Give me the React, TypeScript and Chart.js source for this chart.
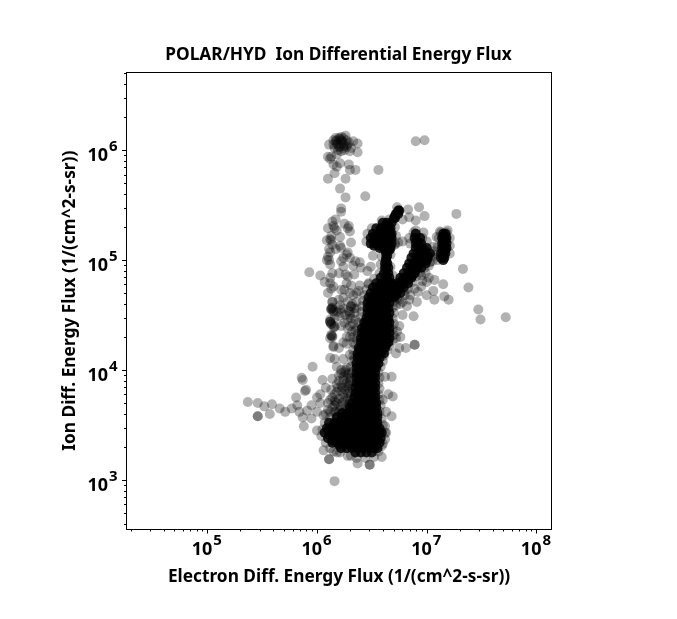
import { useEffect, useRef } from 'react';
import { Chart, registerables } from 'chart.js';
import type { Plugin } from 'chart.js';

Chart.register(...registerables);

const TITLE = 'POLAR/HYD  Ion Differential Energy Flux';
const X_LABEL = 'Electron Diff. Energy Flux (1/(cm^2-s-sr))';
const Y_LABEL = 'Ion Diff. Energy Flux (1/(cm^2-s-sr))';
const FONT = '"Noto Sans", sans-serif';

const X_DECADES = [4, 5, 6, 7, 8];
const Y_DECADES = [2, 3, 4, 5, 6];
const X_LABELLED = [5, 6, 7, 8];
const Y_LABELLED = [3, 4, 5, 6];

// log10 of electron flux / ion flux
const sparseElectron = [
  6.26, 6.20, 6.15, 6.11, 6.33, 6.37, 6.37, 6.18, 6.24, 6.21, 6.28, 6.31, 6.25, 6.16, 6.22, 6.19, 6.27, 6.30, 6.24, 6.18, 6.22,
  6.17, 6.21, 6.25, 6.20, 6.23, 6.27, 6.15, 6.29, 6.19, 6.24, 6.17, 6.22,
  6.10, 6.13, 6.18, 6.12, 6.21, 6.18, 6.15, 6.16, 6.29, 6.30, 6.35, 6.10, 6.26, 6.56, 6.21, 6.26, 6.44, 6.90, 6.98,
  6.22, 6.22, 6.73, 6.83, 6.93, 6.98, 7.27, 6.78, 6.84, 6.90,
  6.14, 6.17, 6.10, 6.15, 6.16, 6.25, 6.29, 6.28, 6.30, 6.09, 6.12, 6.13, 6.21, 6.31, 6.21, 6.22, 6.28, 6.51,
  6.10, 6.11, 6.09, 6.12, 5.93, 6.03, 6.22, 6.24, 6.35, 6.39, 6.49, 6.46, 6.40, 6.34, 6.26, 6.12, 6.07, 6.12, 6.13,
  6.27, 6.31, 6.25, 6.39, 6.47, 6.30, 6.36, 6.22,
  7.33, 7.38, 7.15, 7.07, 7.06, 7.07, 7.16, 7.20, 6.92, 6.91, 6.84, 6.75, 7.47, 7.49, 7.72, 6.88, 6.72, 6.99, 6.96, 6.89,
  7.09, 7.13, 7.18, 6.97, 6.88, 6.74, 6.78, 6.71, 7.02, 7.05, 7.10, 6.95, 7.00,
  6.14, 6.13, 6.12, 6.21, 6.31, 6.30, 6.34, 6.15,
  5.37, 5.46, 5.52, 5.59, 5.66, 5.71, 5.46, 5.46, 5.57, 5.77, 5.82, 5.81, 5.86, 5.87, 5.89, 5.90, 5.96, 6.05, 6.14, 6.08,
  6.03, 6.00, 5.95, 5.91, 5.87, 5.95, 6.00, 6.03, 5.84, 5.88, 6.00, 6.06,
  6.12, 6.16, 6.24, 6.24, 6.30, 6.15, 6.20, 6.13, 6.12, 6.16, 6.13, 6.22, 6.28, 6.21, 6.31, 6.28,
  6.14, 6.15, 6.12, 6.13, 6.16, 6.14, 6.12, 6.15,
  6.89, 6.89, 6.81, 6.75, 6.72, 6.72, 6.68, 6.62, 6.69, 6.65, 6.60, 6.63, 6.68, 6.62, 6.63, 6.60, 6.59, 6.48, 6.48, 6.37, 6.31, 6.11, 6.11, 6.16,
  6.06, 6.15, 6.21,
  6.18, 6.22, 6.27, 6.13, 6.18, 6.24, 6.16, 6.22, 6.27, 6.12, 6.18, 6.24, 6.28, 6.10, 6.16, 6.22, 6.28,
  6.20, 6.25, 6.14, 6.19, 6.25, 6.10, 6.20, 6.26, 6.30, 6.30, 6.30, 6.08,
  6.30, 6.33, 6.34, 6.30, 6.33, 6.34, 6.27, 6.32,
];
const sparseIon = [
  6.13, 6.11, 6.09, 6.05, 6.08, 6.06, 5.98, 6.06, 6.06, 6.03, 6.05, 6.02, 6.00, 6.02, 6.09, 6.05, 6.09, 5.99, 6.11, 6.09, 5.99,
  6.08, 6.10, 6.04, 6.03, 6.08, 6.03, 6.05, 6.07, 6.00, 6.02, 6.11, 6.12,
  5.94, 5.94, 5.96, 5.92, 5.88, 5.85, 5.87, 5.79, 5.87, 5.82, 5.82, 5.74, 5.74, 5.82, 5.65, 5.57, 5.58, 6.08, 6.09,
  5.47, 5.44, 5.48, 5.46, 5.48, 5.40, 5.42, 5.37, 5.39, 5.36,
  5.35, 5.37, 5.29, 5.31, 5.29, 5.33, 5.31, 5.29, 5.26, 5.18, 5.19, 5.18, 5.21, 5.16, 5.13, 5.11, 5.07, 5.04,
  5.03, 5.00, 5.00, 4.96, 4.89, 4.86, 4.99, 4.94, 4.99, 4.98, 4.94, 4.90, 4.93, 4.87, 4.87, 4.84, 4.80, 4.79, 4.74,
  4.79, 4.77, 4.73, 4.77, 4.79, 4.70, 4.70, 4.73,
  4.92, 4.75, 4.78, 4.82, 4.72, 4.64, 4.67, 4.64, 4.71, 4.62, 4.64, 4.64, 4.55, 4.46, 4.48, 4.49, 4.59, 4.88, 4.81, 4.74,
  5.21, 5.25, 5.25, 5.25, 5.25, 5.16, 5.17, 5.15, 4.95, 4.99, 5.00, 4.86, 4.80,
  4.62, 4.56, 4.46, 4.55, 4.58, 4.53, 4.56, 4.53,
  3.71, 3.70, 3.67, 3.69, 3.65, 3.62, 3.58, 3.58, 3.60, 3.65, 3.68, 3.75, 3.93, 3.91, 3.81, 3.82, 4.03, 3.91, 3.92, 3.84,
  3.78, 3.75, 3.68, 3.63, 3.57, 3.56, 3.62, 3.70, 3.62, 3.49, 3.45, 3.59,
  4.11, 4.10, 4.10, 4.25, 4.14, 4.21, 4.20, 4.31, 4.44, 4.40, 4.55, 4.52, 4.38, 4.59, 4.58, 4.46,
  4.56, 4.54, 4.44, 4.42, 4.39, 4.31, 4.29, 4.22,
  4.23, 4.23, 4.20, 4.20, 4.15, 4.29, 3.94, 3.94, 3.76, 3.78, 3.73, 3.62, 3.58, 3.49, 3.43, 3.33, 3.21, 3.14, 3.14, 3.15, 3.22, 3.19, 3.19, 2.99,
  3.27, 3.26, 3.25,
  4.03, 4.00, 4.02, 3.82, 3.87, 3.91, 3.78, 3.81, 3.85, 3.73, 3.70, 3.75, 3.96, 3.64, 3.62, 3.67, 3.79,
  3.95, 3.98, 3.75, 3.84, 3.72, 3.70, 3.62, 3.66, 3.90, 3.80, 3.70, 3.60,
  4.30, 4.42, 4.52, 4.50, 4.25, 4.10, 4.30, 4.35,
];

// grey points hugging the black core, and the denser grey patches beside it
const edgeElectron = [
  6.31, 6.30, 6.31, 6.32, 6.30, 6.31, 6.32, 6.31, 6.32, 6.33, 6.33, 6.35, 6.36, 6.37, 6.36, 6.38, 6.40, 6.41, 6.41, 6.42, 6.43, 6.45, 6.47, 6.52,
  6.57, 6.58, 6.57, 6.56, 6.57, 6.56, 6.57, 6.56, 6.58, 6.60, 6.61, 6.64, 6.66, 6.69, 6.70, 6.69, 6.70, 6.69, 6.70, 6.69, 6.70, 6.73,
  6.04, 6.05, 6.07, 6.12, 6.17, 6.08, 6.12, 6.18, 6.28, 6.36, 6.44, 6.52, 6.56, 6.59, 6.62, 6.62, 6.60, 6.59,
  6.80, 6.83, 6.87, 6.90, 6.94, 6.98, 7.03, 7.05, 7.07, 7.06, 7.10, 7.10, 7.21, 7.21, 7.21, 7.11, 7.12, 7.19, 7.00, 6.85, 6.84, 6.96, 6.90,
  6.45, 6.46, 6.50, 6.71, 6.72, 6.71, 6.66, 6.59, 6.67, 6.59, 6.58, 6.67, 6.69, 6.57,
  6.14, 6.17, 6.21, 6.23, 6.27, 6.29, 6.12, 6.16, 6.20, 6.24, 6.28, 6.18, 6.22, 6.26, 6.29, 6.20, 6.24, 6.28, 6.22, 6.26, 6.29, 6.16, 6.27, 6.31, 6.25, 6.19, 6.23,
  6.13, 6.14, 6.12, 6.13, 6.15, 6.13, 6.14, 6.16, 6.18, 6.20, 6.24, 6.26, 6.29, 6.31, 6.25, 6.22, 6.30, 6.35, 6.27, 6.33, 6.35, 6.36, 6.32, 6.36, 6.14, 6.10, 6.33, 6.38, 6.28, 6.20, 6.24,
  6.75, 6.78, 6.82, 6.76, 6.80, 6.76, 6.85, 6.95, 7.02, 7.00, 6.73, 6.78,
  6.13, 6.17, 6.14, 6.11, 6.12, 6.27, 6.30, 6.33, 6.20, 6.14, 6.15, 6.28, 6.18, 6.24,
];
const edgeIon = [
  3.66, 3.72, 3.78, 3.83, 3.88, 3.93, 3.98, 4.03, 4.08, 4.13, 4.18, 4.23, 4.28, 4.33, 4.38, 4.43, 4.48, 4.53, 4.58, 4.63, 4.68, 4.73, 4.78, 4.83,
  3.62, 3.68, 3.73, 3.78, 3.83, 3.88, 3.93, 3.98, 4.03, 4.08, 4.13, 4.18, 4.22, 4.27, 4.32, 4.37, 4.42, 4.47, 4.52, 4.57, 4.62, 4.65,
  3.40, 3.46, 3.52, 3.57, 3.62, 3.34, 3.29, 3.25, 3.22, 3.20, 3.20, 3.21, 3.26, 3.31, 3.37, 3.43, 3.50, 3.56,
  4.68, 4.74, 4.80, 4.85, 4.89, 4.93, 4.98, 5.03, 5.08, 5.12, 5.05, 5.12, 5.06, 5.13, 5.20, 5.20, 5.26, 5.27, 5.17, 5.15, 5.20, 5.20, 5.27,
  5.17, 5.24, 5.29, 5.14, 5.22, 5.30, 5.37, 5.36, 5.05, 5.03, 4.96, 4.94, 4.86, 4.88,
  3.66, 3.71, 3.64, 3.70, 3.63, 3.68, 3.62, 3.68, 3.74, 3.78, 3.74, 3.80, 3.86, 3.82, 3.86, 3.90, 3.94, 3.93, 3.97, 4.00, 3.97, 3.72, 3.88, 3.62, 3.60, 3.58, 3.84,
  4.55, 4.57, 4.44, 4.42, 4.39, 4.32, 4.30, 4.47, 4.53, 4.49, 4.56, 4.50, 4.54, 4.47, 4.43, 4.40, 4.40, 4.36, 4.24, 4.30, 4.46, 4.56, 4.60, 4.62, 4.62, 4.70, 4.68, 4.72, 4.62, 4.64, 4.66,
  4.40, 4.50, 4.58, 4.30, 4.72, 4.60, 4.68, 4.76, 4.84, 4.68, 4.35, 4.62,
  5.22, 5.10, 5.14, 5.10, 5.07, 5.05, 5.02, 4.95, 4.88, 4.88, 4.76, 4.85, 5.27, 5.02,
];

// saturated black part of the cloud: one ion level, then the electron values at that level
const coreRows: [number, number[]][] = [
  [3.25, [6.35, 6.40, 6.45, 6.50]],
  [3.29, [6.22, 6.27, 6.32, 6.37, 6.42, 6.47, 6.52, 6.55]],
  [3.32, [6.20, 6.25, 6.30, 6.35, 6.40, 6.45, 6.50, 6.53]],
  [3.34, [6.14, 6.19, 6.24, 6.29, 6.34, 6.39, 6.44, 6.49, 6.54, 6.57]],
  [3.36, [6.14, 6.17, 6.22, 6.27, 6.32, 6.37, 6.42, 6.47, 6.52, 6.55]],
  [3.38, [6.10, 6.15, 6.20, 6.25, 6.30, 6.35, 6.40, 6.45, 6.50, 6.55, 6.58]],
  [3.41, [6.11, 6.16, 6.21, 6.26, 6.31, 6.36, 6.41, 6.46, 6.51, 6.56]],
  [3.43, [6.07, 6.12, 6.17, 6.22, 6.27, 6.32, 6.37, 6.42, 6.47, 6.52, 6.57, 6.59]],
  [3.45, [6.11, 6.16, 6.21, 6.26, 6.31, 6.36, 6.41, 6.46, 6.51, 6.56]],
  [3.47, [6.09, 6.14, 6.19, 6.24, 6.29, 6.34, 6.39, 6.44, 6.49, 6.54, 6.57]],
  [3.50, [6.15, 6.20, 6.25, 6.30, 6.35, 6.40, 6.45, 6.50, 6.54]],
  [3.52, [6.11, 6.16, 6.21, 6.26, 6.31, 6.36, 6.41, 6.46, 6.51, 6.55]],
  [3.55, [6.22, 6.27, 6.32, 6.37, 6.42, 6.47, 6.52]],
  [3.57, [6.18, 6.23, 6.28, 6.33, 6.38, 6.43, 6.48, 6.53, 6.55]],
  [3.59, [6.27, 6.32, 6.37, 6.42, 6.47, 6.52]],
  [3.61, [6.23, 6.28, 6.33, 6.38, 6.43, 6.48, 6.53, 6.55]],
  [3.64, [6.33, 6.38, 6.43, 6.48, 6.52]],
  [3.66, [6.30, 6.35, 6.40, 6.45, 6.50, 6.54]],
  [3.68, [6.36, 6.41, 6.46, 6.51]],
  [3.70, [6.32, 6.37, 6.42, 6.47, 6.52, 6.54]],
  [3.73, [6.37, 6.42, 6.47, 6.51]],
  [3.75, [6.34, 6.39, 6.44, 6.49, 6.53]],
  [3.77, [6.38, 6.43, 6.48, 6.51]],
  [3.79, [6.35, 6.40, 6.45, 6.50, 6.53]],
  [3.82, [6.38, 6.43, 6.48, 6.51]],
  [3.84, [6.35, 6.41, 6.46, 6.51, 6.53]],
  [3.86, [6.38, 6.43, 6.48, 6.51]],
  [3.88, [6.36, 6.40, 6.45, 6.50, 6.53]],
  [3.91, [6.38, 6.43, 6.48, 6.51]],
  [3.93, [6.36, 6.41, 6.46, 6.51, 6.53]],
  [3.95, [6.38, 6.43, 6.48, 6.51]],
  [3.97, [6.36, 6.40, 6.45, 6.50, 6.53]],
  [4.00, [6.38, 6.43, 6.48, 6.51]],
  [4.02, [6.36, 6.41, 6.46, 6.51, 6.54]],
  [4.04, [6.39, 6.44, 6.49, 6.53]],
  [4.06, [6.36, 6.41, 6.46, 6.51, 6.56]],
  [4.09, [6.39, 6.44, 6.49, 6.54]],
  [4.11, [6.37, 6.42, 6.47, 6.52, 6.57]],
  [4.13, [6.39, 6.44, 6.49, 6.54]],
  [4.15, [6.37, 6.43, 6.48, 6.53, 6.58, 6.61]],
  [4.18, [6.39, 6.44, 6.49, 6.54, 6.59]],
  [4.20, [6.38, 6.43, 6.48, 6.53, 6.58, 6.62]],
  [4.23, [6.43, 6.48, 6.53, 6.58, 6.63]],
  [4.25, [6.40, 6.45, 6.50, 6.55, 6.60, 6.65]],
  [4.27, [6.43, 6.48, 6.53, 6.58, 6.63]],
  [4.29, [6.40, 6.46, 6.51, 6.56, 6.61, 6.66]],
  [4.32, [6.43, 6.48, 6.53, 6.58, 6.63]],
  [4.34, [6.41, 6.45, 6.50, 6.55, 6.60, 6.66]],
  [4.36, [6.43, 6.48, 6.53, 6.58, 6.63]],
  [4.38, [6.41, 6.46, 6.51, 6.56, 6.61, 6.66]],
  [4.41, [6.44, 6.49, 6.54, 6.59, 6.64]],
  [4.43, [6.43, 6.48, 6.53, 6.58, 6.63, 6.66]],
  [4.45, [6.46, 6.51, 6.56, 6.61, 6.64]],
  [4.47, [6.45, 6.50, 6.55, 6.60, 6.65]],
  [4.50, [6.48, 6.53, 6.58, 6.63]],
  [4.52, [6.46, 6.51, 6.56, 6.61, 6.66]],
  [4.54, [6.48, 6.53, 6.58, 6.63]],
  [4.56, [6.46, 6.50, 6.55, 6.60, 6.65]],
  [4.59, [6.48, 6.53, 6.58, 6.63]],
  [4.61, [6.46, 6.51, 6.56, 6.61, 6.66]],
  [4.64, [6.49, 6.54, 6.59, 6.64]],
  [4.66, [6.47, 6.52, 6.57, 6.62, 6.66, 6.70]],
  [4.68, [6.52, 6.57, 6.62, 6.67, 6.72]],
  [4.70, [6.49, 6.54, 6.59, 6.64, 6.68, 6.72, 6.76]],
  [4.73, [6.54, 6.59, 6.64, 6.69, 6.74]],
  [4.75, [6.51, 6.56, 6.61, 6.66, 6.71, 6.75, 6.79]],
  [4.77, [6.57, 6.62, 6.67, 6.72, 6.77]],
  [4.79, [6.54, 6.59, 6.64, 6.68, 6.73, 6.78, 6.83]],
  [4.82, [6.62, 6.64, 6.78, 6.83]],
  [4.84, [6.58, 6.63, 6.66, 6.76, 6.81, 6.86]],
  [4.86, [6.63, 6.82, 6.87]],
  [4.88, [6.61, 6.65, 6.79, 6.84, 6.89]],
  [4.91, [6.63, 6.85, 6.90]],
  [4.93, [6.62, 6.65, 6.82, 6.87, 6.92, 6.95]],
  [4.95, [6.63, 6.87, 6.92]],
  [4.97, [6.62, 6.64, 6.84, 6.89, 6.94, 6.99]],
  [5.00, [6.63, 6.90, 6.95, 7.00, 7.15]],
  [5.02, [6.63, 6.86, 6.91, 6.96, 7.01, 7.13, 7.16]],
  [5.04, [6.64, 6.91, 6.96, 7.01, 7.15]],
  [5.06, [6.63, 6.88, 6.93, 6.98, 7.03, 7.13, 7.17]],
  [5.09, [6.62, 6.66, 6.93, 6.98, 7.15, 7.17]],
  [5.11, [6.57, 6.61, 6.65, 6.67, 6.90, 6.95, 7.00, 7.14, 7.18]],
  [5.13, [6.52, 6.57, 6.62, 6.66, 6.92, 6.93, 7.16]],
  [5.15, [6.49, 6.54, 6.59, 6.64, 6.68, 6.90, 6.95, 7.14, 7.18]],
  [5.18, [6.52, 6.57, 6.62, 6.66, 6.91, 7.15, 7.17]],
  [5.20, [6.49, 6.53, 6.58, 6.63, 6.68, 6.89, 6.94, 7.14, 7.18]],
  [5.22, [6.53, 6.58, 6.63, 6.67, 7.16]],
  [5.24, [6.51, 6.56, 6.61, 6.66, 6.68, 6.90, 7.15, 7.17]],
  [5.27, [6.58, 6.62, 6.66]],
  [5.29, [6.54, 6.58, 6.63, 6.67]],
  [5.31, [6.62, 6.65]],
  [5.34, [6.60, 6.64, 6.68]],
  [5.38, [6.70, 6.71]],
  [5.40, [6.71]],
  [5.42, [6.72, 6.74]],
  [5.45, [6.75, 6.74]],
];

const X_LOG_MIN = 4.264;
const X_LOG_MAX = 8.137;
const Y_LOG_MIN = 2.555;
const Y_LOG_MAX = 6.706;

const MINOR_STEPS = [1, 2, 3, 4, 5, 6, 7, 8, 9];

const sparsePoints = [
  ...sparseElectron.map((e, i) => ({ x: 10 ** e, y: 10 ** sparseIon[i] })),
  ...edgeElectron.map((e, i) => ({ x: 10 ** e, y: 10 ** edgeIon[i] })),
];
const corePoints = coreRows.flatMap(([ion, electrons]) => electrons.map(e => ({ x: 10 ** e, y: 10 ** ion })));

const axesPlugin: Plugin<'scatter'> = {
  id: 'logAxes',
  afterDraw(chart) {
    const { ctx, chartArea: a, scales } = chart;
    const xs = scales.x;
    const ys = scales.y;
    ctx.save();
    ctx.strokeStyle = '#000';
    ctx.fillStyle = '#000';
    ctx.lineWidth = 1;
    ctx.strokeRect(Math.floor(a.left) + 0.5, Math.floor(a.top) + 0.5, Math.floor(a.right) - Math.floor(a.left), Math.floor(a.bottom) - Math.floor(a.top));

    ctx.beginPath();
    for (const d of X_DECADES) {
      for (const s of MINOR_STEPS) {
        const v = s * 10 ** d;
        if (v < xs.min || v > xs.max) continue;
        const px = Math.round(xs.getPixelForValue(v)) + 0.5;
        ctx.moveTo(px, a.bottom);
        ctx.lineTo(px, a.bottom + (s === 1 ? 4.5 : 2.5));
      }
    }
    for (const d of Y_DECADES) {
      for (const s of MINOR_STEPS) {
        const v = s * 10 ** d;
        if (v < ys.min || v > ys.max) continue;
        const py = Math.round(ys.getPixelForValue(v)) + 0.5;
        ctx.moveTo(a.left, py);
        ctx.lineTo(a.left - (s === 1 ? 4.5 : 2.5), py);
      }
    }
    ctx.stroke();

    ctx.textBaseline = 'alphabetic';
    for (const d of X_LABELLED) {
      const px = xs.getPixelForValue(10 ** d);
      ctx.textAlign = 'right';
      ctx.font = `bold 18px ${FONT}`;
      ctx.fillText('10', px + 5, 555);
      ctx.textAlign = 'left';
      ctx.font = `bold 15px ${FONT}`;
      ctx.fillText(String(d), px + 6, 545);
    }
    for (const d of Y_LABELLED) {
      const py = ys.getPixelForValue(10 ** d);
      ctx.textAlign = 'right';
      ctx.font = `bold 18px ${FONT}`;
      ctx.fillText('10', 108, py + 11);
      ctx.textAlign = 'left';
      ctx.font = `bold 15px ${FONT}`;
      ctx.fillText(String(d), 109, py + 1);
    }
    ctx.restore();
  },
};

export default function App() {
  const canvasRef = useRef<HTMLCanvasElement>(null);

  useEffect(() => {
    if (!canvasRef.current) return;
    const chart = new Chart(canvasRef.current, {
      type: 'scatter',
      data: {
        datasets: [
          // the black core is listed with fewer points than the original cloud, so it is more opaque
          { data: corePoints, backgroundColor: 'rgba(0,0,0,0.85)', borderWidth: 0, pointRadius: 5 },
          { data: sparsePoints, backgroundColor: 'rgba(0,0,0,0.3)', borderWidth: 0, pointRadius: 5 },
        ],
      },
      options: {
        responsive: false,
        animation: false,
        plugins: {
          legend: { display: false },
          tooltip: { enabled: false },
          title: {
            display: true,
            text: TITLE,
            color: '#000',
            font: { family: FONT, size: 17.3, weight: 'bold' },
            padding: { top: 44.5, bottom: 7.2 },
          },
        },
        scales: {
          x: {
            type: 'logarithmic',
            min: 10 ** X_LOG_MIN,
            max: 10 ** X_LOG_MAX,
            grid: { display: false },
            border: { display: false },
            ticks: { display: false },
            title: {
              display: true,
              text: X_LABEL,
              color: '#000',
              font: { family: FONT, size: 17.3, weight: 'bold' },
              padding: { top: 0, bottom: 31.5 },
            },
            afterFit: (s) => { s.height = 90; },
          },
          y: {
            type: 'logarithmic',
            min: 10 ** Y_LOG_MIN,
            max: 10 ** Y_LOG_MAX,
            grid: { display: false },
            border: { display: false },
            ticks: { display: false },
            title: {
              display: true,
              text: Y_LABEL,
              color: '#000',
              font: { family: FONT, size: 17.3, weight: 'bold' },
              padding: { top: 60, bottom: 0 },
            },
            afterFit: (s) => { s.width = 126.5; },
          },
          // empty axis that only reserves the margin on the right
          y2: {
            position: 'right',
            grid: { display: false },
            border: { display: false },
            ticks: { display: false },
            afterFit: (s) => { s.width = 125.5; },
          },
        },
      },
      plugins: [axesPlugin],
    });
    return () => { chart.destroy(); };
  }, []);

  return (
    <div style={{ position: 'absolute', left: 0, top: 0, width: 677, height: 619, background: '#fff' }}>
      <canvas ref={canvasRef} width={677} height={619} style={{ display: 'block' }} />
    </div>
  );
}
